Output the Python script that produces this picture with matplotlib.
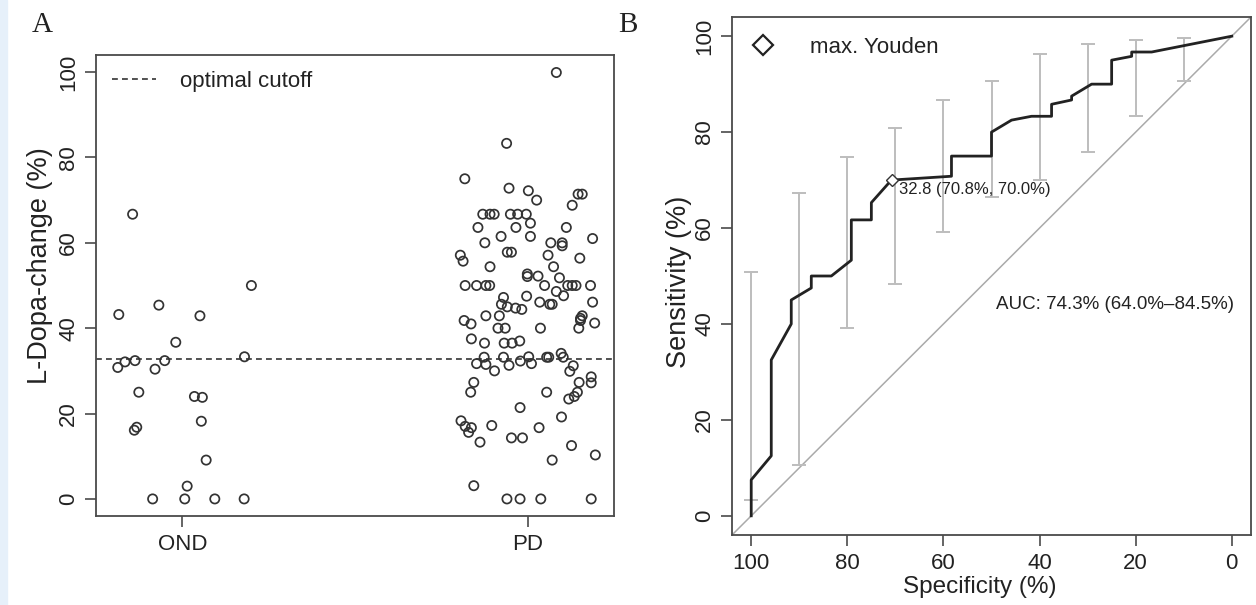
import matplotlib.pyplot as plt
from matplotlib.patches import Rectangle
from matplotlib.lines import Line2D

plt.rcParams['font.family'] = ['Liberation Sans', 'DejaVu Sans']

# ---- panel A: L-Dopa change per group (value, horizontal jitter) ----
groups = ['OND', 'PD']
ond_values = [50.0, 43.2, 45.4, 42.9, 36.7, 30.8, 32.1, 32.4, 30.4, 32.4, 33.3, 25.0,
              24.0, 23.8, 18.2, 16.1, 16.8, 9.1, 3.0, 0, 0, 0, 0, 66.7]
ond_jitter = [0.200, -0.184, -0.068, 0.051, -0.019, -0.187, -0.166, -0.137, -0.079, -0.051,
              0.180, -0.126, 0.035, 0.058, 0.055, -0.139, -0.132, 0.069, 0.014, -0.086,
              0.007, 0.094, 0.179, -0.144]
pd_values = [99.9, 83.3, 75.0, 72.8, 72.2, 70.0, 71.4, 71.4, 68.8, 66.7, 66.7, 66.7,
             66.7, 66.7, 66.7, 64.6, 63.6, 63.6, 63.6, 61.5, 61.5, 61.0, 60.0, 60.0,
             60.0, 59.3, 57.1, 55.7, 57.8, 57.8, 57.1, 56.4, 54.4, 54.4, 52.7, 52.1,
             52.2, 51.8,
             50, 50, 50, 50, 50, 50, 50, 50, 50, 48.6, 47.6, 47.2, 47.5, 45.6, 45.0,
             44.7, 44.4, 46.1, 45.6, 45.6, 46.1, 42.9, 42.9, 41.8, 41.0, 42.9, 42.3,
             41.8, 41.2, 40.0, 40.0, 40.0, 40.0, 37.5, 36.5, 36.5, 36.5, 37.0, 33.2,
             33.2, 33.3, 33.2, 33.2, 34.1, 33.2, 31.7, 31.5, 30.0, 31.3, 32.3, 31.7,
             31.2, 29.9, 27.3, 25.0, 27.3, 28.6, 27.2, 25.0, 25.0, 24.0, 23.4, 21.4,
             19.2, 18.3, 17.0, 15.6, 16.7, 17.2, 16.7, 13.3, 14.3, 14.3, 12.5, 10.3,
             9.1, 3.1, 0, 0, 0, 0]
pd_jitter = [0.083, -0.061, -0.182, -0.054, 0.002, 0.026, 0.146, 0.158, 0.129, -0.130,
             -0.109, -0.097, -0.050, -0.029, -0.004, 0.008, -0.144, -0.034, 0.112, -0.077,
             0.008, 0.188, -0.124, 0.067, 0.100, 0.100, -0.195, -0.187, -0.059, -0.047,
             0.059, 0.151, -0.109, 0.075, -0.001, -0.001, 0.030, 0.092,
             -0.181, -0.148, -0.121, -0.110, 0.049, 0.116, 0.129, 0.140, 0.182, 0.083,
             0.104, -0.070, -0.003, -0.076, -0.059, -0.035, -0.017, 0.035, 0.064, 0.071,
             0.188, -0.121, -0.082, -0.184, -0.164, 0.158, 0.153, 0.153, 0.194, -0.086,
             -0.065, 0.037, 0.148, -0.163, -0.125, -0.068, -0.045, -0.023, -0.126, -0.070,
             0.003, 0.055, 0.061, 0.097, 0.103, -0.148, -0.121, -0.096, -0.054, -0.021,
             0.011, 0.132, 0.122, -0.156, -0.165, 0.149, 0.184, 0.184, 0.055, 0.144,
             0.135, 0.119, -0.022, 0.098, -0.193, -0.181, -0.171, -0.163, -0.104, 0.033,
             -0.138, -0.047, -0.015, 0.127, 0.196, 0.071, -0.156, -0.060, -0.022, 0.038,
             0.184]
cutoff = 32.8

# ---- panel B: ROC curve (specificity, sensitivity in %) ----
roc_spec = [100, 100, 95.83, 95.83, 91.67, 91.67, 87.5, 87.5, 83.33, 79.17, 79.17, 75,
            75, 70.83, 58.33, 58.33, 50, 50, 45.83, 41.67, 37.5, 37.5, 33.33, 33.33,
            29.17, 25, 25, 20.83, 20.83, 16.67, 0]
roc_sens = [0, 7.5, 12.5, 32.5, 40, 45, 47.5, 50, 50, 53.3, 61.7, 61.7,
            65.3, 70.0, 70.8, 75, 75, 80, 82.5, 83.3, 83.3, 85.8, 86.7, 87.5,
            90, 90, 95, 95.8, 96.7, 96.7, 100]
ci_spec = [100, 90, 80, 70, 60, 50, 40, 30, 20, 10]
ci_low = [3.3, 10.5, 39.2, 48.3, 59.2, 66.5, 70.0, 75.9, 83.4, 90.7]
ci_high = [50.8, 67.4, 74.9, 80.9, 86.6, 90.7, 96.3, 98.3, 99.2, 99.7]
best_spec, best_sens = 70.8, 70.0
best_label = '32.8 (70.8%, 70.0%)'
auc_label = 'AUC: 74.3% (64.0%\u201384.5%)'

W, H = 1256, 605
FS = 16
TXT = '#222222'
SPINE = '#4a4a4a'

fig = plt.figure(figsize=(W / 100, H / 100), dpi=100)
fig.patches.append(Rectangle((0, 0), 7 / W, 1, transform=fig.transFigure,
                             color='#E6F0FA', zorder=0))


def style_axes(ax):
    for s in ax.spines.values():
        s.set_color(SPINE)
        s.set_linewidth(1.3)
    ax.tick_params(direction='out', length=8, width=1.2, color=SPINE,
                   labelsize=FS, labelcolor=TXT)
    ax.tick_params(axis='y', labelrotation=90, pad=4)
    for lab in ax.get_yticklabels():
        lab.set_va('center')


# panel A
ax1 = fig.add_axes([96 / W, 1 - 516 / H, 518 / W, 461 / H])
ax1.scatter([1 + j for j in ond_jitter], ond_values, s=44, facecolors='none',
            edgecolors='#333333', linewidths=1.25, zorder=3)
ax1.scatter([2 + j for j in pd_jitter], pd_values, s=44, facecolors='none',
            edgecolors='#333333', linewidths=1.25, zorder=3)
ax1.axhline(cutoff, color='#333333', lw=1.2, dashes=(3.5, 2.5))
ax1.set_xlim(0.75, 2.25)
ax1.set_ylim(-4, 104)
ax1.set_xticks([1, 2])
ax1.set_xticklabels(groups)
ax1.set_yticks(range(0, 101, 20))
style_axes(ax1)
ax1.tick_params(axis='x', pad=5)
fig.text(40 / W, 1 - 266 / H, 'L-Dopa-change (%)', fontsize=19.5, color=TXT,
         rotation=90, ha='center', va='center')
h1 = Line2D([], [], color='#333333', lw=1.2, dashes=(3.5, 2.5))
ax1.legend([h1], ['optimal cutoff'], loc='upper left', frameon=False, fontsize=FS,
           handlelength=2.0, handletextpad=1.1, borderaxespad=0.3,
           labelcolor=TXT)

# panel B
ax2 = fig.add_axes([732 / W, 1 - 535 / H, 519 / W, 518 / H])
ax2.plot([104, -4], [-4, 104], color='#aaaaaa', lw=1.1, zorder=1)
ax2.errorbar(ci_spec, [(l + h) / 2 for l, h in zip(ci_low, ci_high)],
             yerr=[[(h - l) / 2 for l, h in zip(ci_low, ci_high)],
                   [(h - l) / 2 for l, h in zip(ci_low, ci_high)]],
             fmt='none', ecolor='#bdbdbd', elinewidth=1.4, capsize=5, capthick=1.4,
             zorder=2)
ax2.plot(roc_spec, roc_sens, color='#222222', lw=2.0, zorder=3)
ax2.plot([best_spec], [best_sens], marker='D', ms=6, mfc='white', mec='#333333',
         mew=1.0, ls='none', zorder=4)
ax2.text(best_spec - 1.5, best_sens - 0.5, best_label, fontsize=12, color=TXT,
         ha='left', va='top')
ax2.text(24.2, 44, auc_label, fontsize=13.5, color=TXT, ha='center', va='center')
ax2.set_xlim(104, -4)
ax2.set_ylim(-4, 104)
ax2.set_xticks(range(100, -1, -20))
ax2.set_yticks(range(0, 101, 20))
style_axes(ax2)
ax2.tick_params(axis='x', pad=5)
fig.text(980 / W, 1 - 587 / H, 'Specificity (%)', fontsize=17.5, color=TXT,
         ha='center', va='center')
fig.text(679 / W, 1 - 282 / H, 'Sensitivity (%)', fontsize=19.5, color=TXT,
         rotation=90, ha='center', va='center')
h2 = Line2D([], [], marker='D', ms=10, mfc='white', mec='#222222', mew=1.6, ls='none')
ax2.legend([h2], ['max. Youden'], loc='upper left', frameon=False, fontsize=FS,
           handlelength=1.0, handletextpad=1.6, borderaxespad=0.5,
           labelcolor=TXT)

# panel letters
fig.text(42 / W, 1 - 25 / H, 'A', fontsize=21, family='Liberation Serif',
         color=TXT, ha='center', va='center')
fig.text(628 / W, 1 - 25 / H, 'B', fontsize=21, family='Liberation Serif',
         color=TXT, ha='center', va='center')

fig.savefig('out.png', dpi=100)
